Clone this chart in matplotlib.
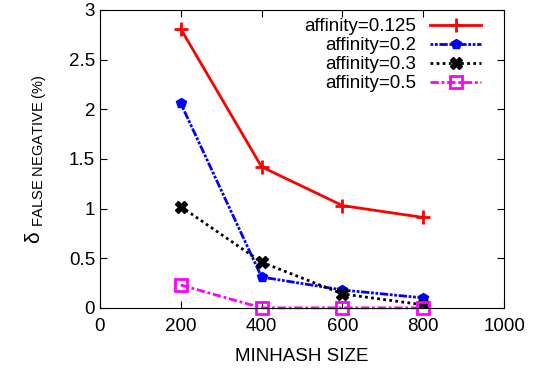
import matplotlib
matplotlib.use("Agg")
import matplotlib.pyplot as plt

plt.rcParams["font.family"] = ["Liberation Sans", "DejaVu Sans"]
plt.rcParams["mathtext.fontset"] = "custom"
plt.rcParams["mathtext.rm"] = "Liberation Sans"
plt.rcParams["mathtext.it"] = "Liberation Sans:italic"

minhash = [200, 400, 600, 800]
aff_0125 = [2.81, 1.42, 1.03, 0.91]
aff_02 = [2.06, 0.31, 0.18, 0.10]
aff_03 = [1.02, 0.46, 0.14, 0.03]
aff_05 = [0.23, 0.0, 0.0, 0.0]
labels = ["affinity=0.125", "affinity=0.2", "affinity=0.3", "affinity=0.5"]

fig = plt.figure(figsize=(5.37, 3.70), dpi=100)
ax = fig.add_axes([0.186, 0.168, 0.753, 0.805])

ax.plot(minhash, aff_0125, color="red", lw=2, marker="+", ms=10, mew=2,
        label=labels[0])
ax.plot(minhash, aff_02, color="blue", lw=2, ls=(0, (1, 0.6, 1, 0.6, 3, 0.6)),
        marker="p", ms=7, label=labels[1])
ax.plot(minhash, aff_03, color="black", lw=2, ls=(0, (1, 1.2)),
        marker="X", ms=9, label=labels[2])
ax.plot(minhash, aff_05, color="magenta", lw=2, ls=(0, (3, 1, 1, 1)),
        marker="s", ms=9, mfc="none", mew=2, label=labels[3], clip_on=False)

ax.set_xlim(0, 1000)
ax.set_ylim(0, 3)
ax.set_xticks([0, 200, 400, 600, 800, 1000])
ax.set_yticks([0, 0.5, 1, 1.5, 2, 2.5, 3])
ax.set_yticklabels(["0", "0.5", "1", "1.5", "2", "2.5", "3"])
ax.tick_params(direction="in", top=True, right=True, labelsize=13.5, length=5)
ax.tick_params(axis="x", pad=7)
for s in ax.spines.values():
    s.set_linewidth(0.8)

ax.set_xlabel("MINHASH SIZE", fontsize=13.5, labelpad=10)
ax.set_ylabel(r"δ $_{\mathrm{FALSE\ NEGATIVE\ (\%)}}$", fontsize=15, labelpad=14)

ax.legend(loc="upper right", frameon=False, markerfirst=False, fontsize=13.5,
          handlelength=2.7, labelspacing=0.1, borderaxespad=0.2,
          handletextpad=0.75, bbox_to_anchor=(0.97, 1.01))

plt.savefig("out.png", dpi=100)
